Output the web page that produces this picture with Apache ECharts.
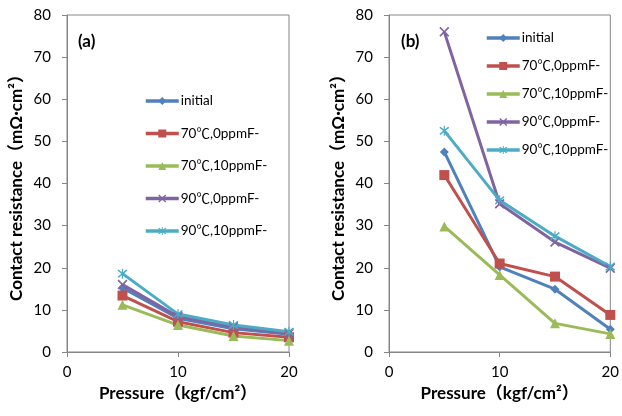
<!DOCTYPE html>
<html><head><meta charset="utf-8">
<script src="https://cdn.jsdelivr.net/npm/echarts@6/dist/echarts.min.js"></script>
<style>html,body{margin:0;padding:0;background:#fff}#c{width:622px;height:416px}</style>
</head><body><div id="c"></div>
<script>
var pressure = [5, 10, 15, 20];
var seriesNames = ['initial', '70℃,0ppmF-', '70℃,10ppmF-', '90℃,0ppmF-', '90℃,10ppmF-'];
var a_initial = [15.2, 8.0, 5.5, 4.2];
var a_70_0 = [13.4, 7.2, 4.6, 3.5];
var a_70_10 = [11.2, 6.4, 3.8, 2.7];
var a_90_0 = [16.0, 8.4, 6.0, 4.4];
var a_90_10 = [18.6, 9.0, 6.4, 4.8];
var b_initial = [47.5, 20.2, 14.9, 5.4];
var b_70_0 = [42.0, 21.0, 17.9, 8.8];
var b_70_10 = [29.8, 18.3, 6.8, 4.3];
var b_90_0 = [76.0, 35.2, 26.1, 19.9];
var b_90_10 = [52.5, 36.0, 27.5, 20.3];
var xTicks = [0, 10, 20];
var yTicks = [0, 10, 20, 30, 40, 50, 60, 70, 80];
var panelLabels = ['(a)', '(b)'];
var xTitle = 'Pressure（kgf/cm²）';
var yTitle = 'Contact resistance（mΩ·cm²）';

var colors = ['#4F81BD', '#C0504D', '#9BBB59', '#8064A2', '#4BACC6'];
var xPath = 'path://M0,1.2L1.2,0L5,3.8L8.8,0L10,1.2L6.2,5L10,8.8L8.8,10L5,6.2L1.2,10L0,8.8L3.8,5Z';
var starPath = 'path://M0,1.2L1.2,0L5,3.8L8.8,0L10,1.2L6.2,5L10,8.8L8.8,10L5,6.2L1.2,10L0,8.8L3.8,5ZM4.4,-1L5.6,-1L5.6,11L4.4,11Z';
var symbols = ['diamond', 'rect', 'triangle', xPath, starPath];
var sizes = [9, 10, 10, 10, 10];
var font = 'Lato, "Noto Sans CJK SC", "Noto Sans", sans-serif';

var aData = [a_initial, a_70_0, a_70_10, a_90_0, a_90_10];
var bData = [b_initial, b_70_0, b_70_10, b_90_0, b_90_10];

function pairs(vals) { return pressure.map(function (p, i) { return [p, vals[i]]; }); }

var series = [];
[aData, bData].forEach(function (set, gi) {
  set.forEach(function (vals, si) {
    series.push({
      name: seriesNames[si], type: 'line', xAxisIndex: gi, yAxisIndex: gi,
      data: pairs(vals), symbol: symbols[si], symbolSize: sizes[si],
      lineStyle: { color: colors[si], width: 3 },
      itemStyle: { color: colors[si] },
      emphasis: { disabled: true }, animation: false
    });
  });
});

function xAxis(gi) {
  return {
    type: 'value', gridIndex: gi, min: 0, max: 20, interval: 10,
    name: xTitle, nameLocation: 'middle', nameGap: 31,
    nameTextStyle: { fontFamily: font, fontWeight: 'bold', fontSize: 17, color: '#000' },
    axisLine: { lineStyle: { color: '#868686', width: 1 } },
    axisTick: { show: true, length: 5, lineStyle: { color: '#868686' } },
    axisLabel: { fontFamily: font, fontSize: 15, color: '#000', margin: 13 },
    splitLine: { show: false }
  };
}
function yAxis(gi) {
  return {
    type: 'value', gridIndex: gi, min: 0, max: 80, interval: 10,
    name: yTitle, nameLocation: 'middle', nameGap: 42, nameRotate: 90,
    nameTextStyle: { fontFamily: font, fontWeight: 'bold', fontSize: 17, color: '#000' },
    axisLine: { show: true, lineStyle: { color: '#868686', width: 1 } },
    axisTick: { show: true, length: 5, lineStyle: { color: '#868686' } },
    axisLabel: { fontFamily: font, fontSize: 15, color: '#000', margin: 16 },
    splitLine: { show: false }
  };
}

function legend(left, top, gap) {
  return {
    data: seriesNames, orient: 'vertical', left: left, top: top,
    itemWidth: 33, itemHeight: 10, itemGap: gap, selectedMode: false,
    lineStyle: { width: 3.5 },
    textStyle: { fontFamily: font, fontSize: 13.5, color: '#000', lineHeight: 14, padding: [0, 0, 0, -3] }
  };
}

var chart = echarts.init(document.getElementById('c'), null, { renderer: 'canvas' });
chart.setOption({
  animation: false,
  grid: [
    { left: 67, top: 15, width: 222, height: 337, show: true, borderColor: '#868686', borderWidth: 1 },
    { left: 389, top: 15, width: 222, height: 337, show: true, borderColor: '#868686', borderWidth: 1 }
  ],
  xAxis: [xAxis(0), xAxis(1)],
  yAxis: [yAxis(0), yAxis(1)],
  legend: [legend(139, 89, 18.5), legend(480, 26, 14)],
  graphic: [
    { type: 'text', left: 78, top: 33, style: { text: panelLabels[0], font: 'bold 17px ' + font, fill: '#000' } },
    { type: 'text', left: 401, top: 33, style: { text: panelLabels[1], font: 'bold 17px ' + font, fill: '#000' } }
  ],
  series: series
});
</script>
</body></html>
